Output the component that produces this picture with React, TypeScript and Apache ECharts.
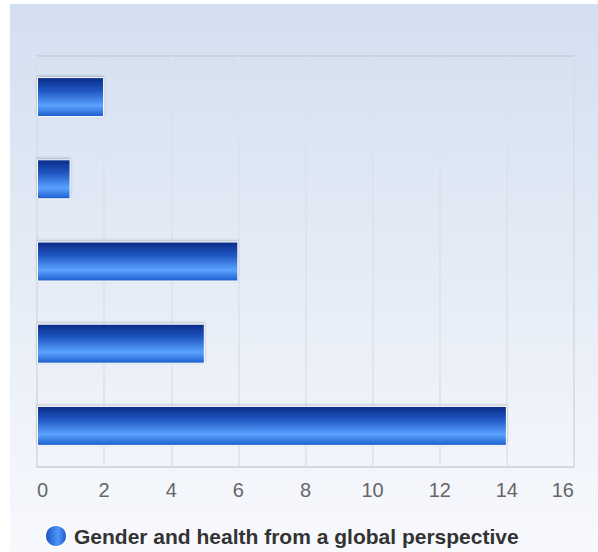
import React, { useEffect, useRef } from "react";
import * as echarts from "echarts";

const categories = ["E", "D", "C", "B", "A"];
const values = [14, 5, 6, 1, 2];
const seriesName = "Gender and health from a global perspective";
const xMin = 0;
const xMax = 16;
const xInterval = 2;

export default function App() {
  const ref = useRef<HTMLDivElement>(null);
  useEffect(() => {
    if (!ref.current) return;
    const chart = echarts.init(ref.current, null, { renderer: "svg" });
    const barGradient = new echarts.graphic.LinearGradient(0, 0, 0, 1, [
      { offset: 0, color: "#0a2a86" },
      { offset: 0.35, color: "#2158c4" },
      { offset: 0.72, color: "#5aa3ff" },
      { offset: 1, color: "#1c5ccc" },
    ]);
    chart.setOption({
      animation: false,
      backgroundColor: new echarts.graphic.LinearGradient(0, 0, 0, 1, [
        { offset: 0, color: "#d3dff0" },
        { offset: 1, color: "#f8f9fd" },
      ]),
      grid: {
        left: 27,
        top: 52,
        right: 24,
        bottom: 85,
        show: true,
        borderColor: "#c9cdd6",
        borderWidth: 1.5,
        backgroundColor: "transparent",
        containLabel: false,
      },
      legend: {
        show: true,
        left: 29,
        top: 515,
        itemWidth: 22,
        itemHeight: 22,
        icon: "circle",
        itemGap: 8,
        textStyle: {
          fontFamily: "'Liberation Sans', Arial, sans-serif",
          fontSize: 21,
          fontWeight: "bold",
          color: "#333333",
          padding: [0, 0, 0, 2],
        },
        data: [
          {
            name: seriesName,
            itemStyle: {
              color: new echarts.graphic.LinearGradient(0, 0, 1, 0, [
                { offset: 0, color: "#1a4fc0" },
                { offset: 0.6, color: "#4f96f8" },
                { offset: 1, color: "#1b55c8" },
              ]),
            },
          },
        ],
      },
      xAxis: {
        type: "value",
        min: xMin,
        max: xMax,
        interval: xInterval,
        axisLine: { show: false },
        axisTick: { show: false },
        splitLine: { show: true, lineStyle: { color: "#dde2ea", width: 1.5 } },
        axisLabel: {
          color: "#666666",
          fontSize: 20,
          fontFamily: "'Liberation Sans', Arial, sans-serif",
          margin: 13,
          alignMinLabel: "left",
          alignMaxLabel: "right",
        },
      },
      yAxis: {
        type: "category",
        data: categories,
        axisLine: { show: false },
        axisTick: { show: false },
        axisLabel: { show: false },
        splitLine: { show: false },
      },
      series: [
        {
          name: seriesName,
          type: "bar",
          data: values,
          barWidth: 40,
          itemStyle: {
            color: barGradient,
            borderColor: "#ffffff",
            borderWidth: 1,
            shadowColor: "rgba(60,70,100,0.35)",
            shadowBlur: 2,
            shadowOffsetY: -1,
          },
        },
      ],
    });
    return () => chart.dispose();
  }, []);
  return (
    <div
      ref={ref}
      style={{ position: "absolute", left: 10, top: 4, width: 588, height: 548 }}
    />
  );
}
